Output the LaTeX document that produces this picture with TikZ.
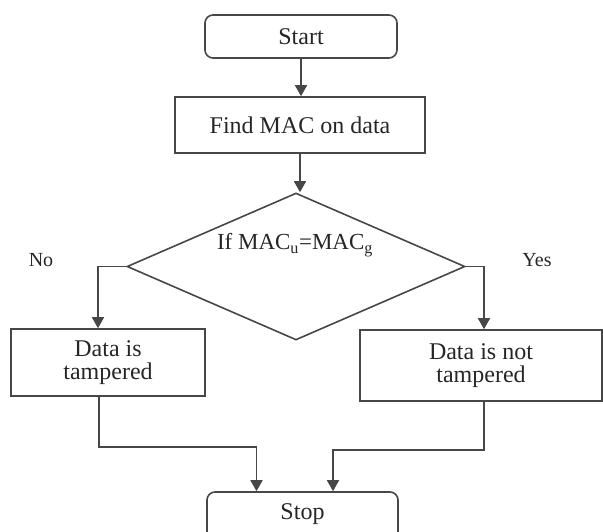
\documentclass[tikz,border=0pt]{standalone}
\usepackage{fontspec}
\setmainfont{Liberation Serif}
\usetikzlibrary{shapes.geometric,arrows.meta}
\begin{document}
\begin{tikzpicture}[x=1pt,y=-1pt,
  line width=1.6pt,
  every node/.style={text=black!85},
  stepbox/.style={draw=black!72,rectangle,inner sep=0pt,font=\fontsize{24}{25}\selectfont,align=center},
  termbox/.style={stepbox,rounded corners=8pt},
  lbl/.style={font=\fontsize{20}{22}\selectfont,inner sep=0pt},
  arr/.style={draw=black!72,-{Triangle[width=12pt,length=11pt]}},
  conn/.style={draw=black!72}]
\useasboundingbox (0,0) rectangle (603,531);
\clip (0,0) rectangle (603,531);
\node[termbox,minimum width=192pt,minimum height=43pt] (start) at (301,36.5) {Start};
\node[stepbox,minimum width=250pt,minimum height=56pt] (find) at (300,125) {Find MAC on data};
\node[draw=black!72,diamond,inner sep=0pt,minimum width=338pt,minimum height=147pt] (dia) at (296,266.5) {};
\node[font=\fontsize{23}{24}\selectfont,inner sep=0pt] (dtext) at (295,245) {If MAC\textsubscript{u}=MAC\textsubscript{g}};
\node[lbl] (no) at (41,260) {No};
\node[lbl] (yes) at (537,260) {Yes};
\node[stepbox,minimum width=194pt,minimum height=67pt] (ltamp) at (108,362.5) {Data is\\[-2pt]tampered};
\node[stepbox,minimum width=242pt,minimum height=71pt] (rtamp) at (481,365.5) {Data is not\\[-2pt]tampered};
\node[termbox,minimum width=191pt,minimum height=48pt] (stop) at (302.5,516) {};
\node[font=\fontsize{24}{25}\selectfont,inner sep=0pt] (stoptext) at (302.5,514) {Stop};
\coordinate (lj) at (180,447);
\coordinate (rj) at (420,450);
\draw[arr] (start.south) -- (start.south |- find.north);
\draw[arr] (find.south) -- (find.south |- dia.north);
\draw[arr] (dia.west) -| ([xshift=-10pt]ltamp.north);
\draw[arr] (dia.east) -| ([xshift=3pt]rtamp.north);
\draw[arr] ([xshift=-9pt]ltamp.south) |- (lj) -| ([xshift=-46pt]stop.north);
\draw[arr] ([xshift=3pt]rtamp.south) |- (rj) -| ([xshift=30.5pt]stop.north);
\end{tikzpicture}
\end{document}
